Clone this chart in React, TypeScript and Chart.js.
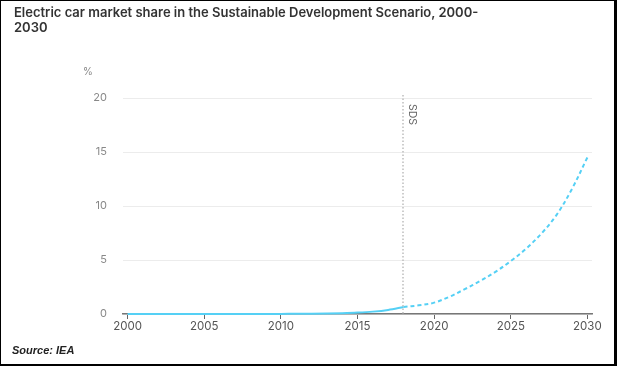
import React, { useEffect, useRef } from "react";
import { Chart, registerables } from "chart.js";

Chart.register(...registerables);

const histYears = [2000, 2001, 2002, 2003, 2004, 2005, 2006, 2007, 2008, 2009, 2010, 2011, 2012, 2013, 2014, 2015, 2016, 2017, 2018];
const histShare = [0, 0, 0, 0, 0, 0, 0, 0, 0, 0, 0.01, 0.02, 0.03, 0.05, 0.08, 0.13, 0.22, 0.38, 0.65];
const sdsYears = [2018, 2019, 2020, 2021, 2022, 2023, 2024, 2025, 2026, 2027, 2028, 2029, 2030];
const sdsShare = [0.65, 0.8, 1.05, 1.6, 2.3, 3.05, 3.9, 4.9, 6.05, 7.45, 9.2, 11.6, 14.5];
const xTicks = [2000, 2005, 2010, 2015, 2020, 2025, 2030];
const yTicks = [0, 5, 10, 15, 20];
const markerYear = 2018;
const markerLabel = "SDS";
const titleText = "Electric car market share in the Sustainable Development Scenario, 2000-\n2030";
const unitLabel = "%";
const sourceText = "Source: IEA";

const LINE = "#55d0f5";
const FONT = "Inter, 'Noto Sans', sans-serif";

const markerPlugin = {
  id: "sdsMarker",
  afterDatasetsDraw(chart: any) {
    const { ctx, chartArea, scales } = chart;
    const x = scales.x.getPixelForValue(markerYear);
    ctx.save();
    ctx.strokeStyle = "#bdbdbd";
    ctx.lineWidth = 1.5;
    ctx.setLineDash([1.5, 2]);
    ctx.beginPath();
    ctx.moveTo(Math.round(x), chartArea.top - 3);
    ctx.lineTo(Math.round(x), chartArea.bottom);
    ctx.stroke();
    ctx.setLineDash([]);
    ctx.translate(Math.round(x) + 4, chartArea.top + 6);
    ctx.rotate(Math.PI / 2);
    ctx.fillStyle = "#666";
    ctx.font = `10.5px ${FONT}`;
    ctx.textAlign = "left";
    ctx.textBaseline = "bottom";
    ctx.fillText(markerLabel, 0, 0);
    ctx.restore();
  },
};

export default function App() {
  const ref = useRef<HTMLCanvasElement | null>(null);

  useEffect(() => {
    document.body.style.margin = "0";
    if (!ref.current) return;
    const chart = new Chart(ref.current, {
      type: "line",
      data: {
        datasets: [
          {
            label: "Historical",
            data: histYears.map((y, i) => ({ x: y, y: histShare[i] })),
            borderColor: LINE,
            borderWidth: 2,
            pointRadius: 0,
            tension: 0.4,
            cubicInterpolationMode: "monotone",
            clip: false,
          },
          {
            label: "SDS",
            data: sdsYears.map((y, i) => ({ x: y, y: sdsShare[i] })),
            borderColor: LINE,
            borderWidth: 2,
            borderDash: [4, 3],
            pointRadius: 0,
            tension: 0.35,
            clip: false,
          },
        ],
      },
      options: {
        animation: false,
        responsive: false,
        maintainAspectRatio: false,
        layout: { padding: { left: 93, right: 25, top: 98, bottom: 22 } },
        plugins: { legend: { display: false }, tooltip: { enabled: false }, title: { display: false } },
        scales: {
          x: {
            type: "linear",
            min: 1999.7,
            max: 2030.3,
            afterBuildTicks: (s: any) => {
              s.ticks = xTicks.map((v) => ({ value: v }));
            },
            afterFit: (s: any) => {
              s.height = 30;
            },
            grid: { drawOnChartArea: false, drawTicks: true, tickLength: 5, color: "#666" },
            border: { display: true, color: "#777", width: 1.5 },
            ticks: {
              autoSkip: false,
              maxRotation: 0,
              padding: 1,
              color: "#555",
              font: { family: FONT, size: 11.5 },
              callback: (v: any) => String(v),
            },
          },
          y: {
            min: 0,
            max: 20,
            afterBuildTicks: (s: any) => {
              s.ticks = yTicks.map((v) => ({ value: v }));
            },
            afterFit: (s: any) => {
              s.width = 30;
            },
            grid: { drawTicks: false, color: "#ececec" },
            border: { display: false },
            ticks: {
              padding: 16,
              color: "#888",
              font: { family: FONT, size: 11 },
            },
          },
        },
      },
      plugins: [markerPlugin],
    } as any);
    return () => chart.destroy();
  }, []);

  return (
    <div
      style={{
        position: "relative",
        width: 617,
        height: 366,
        boxSizing: "border-box",
        borderTop: "1px solid #000",
        borderLeft: "1px solid #000",
        borderRight: "3px solid #000",
        borderBottom: "2px solid #000",
        background: "#fff",
        overflow: "hidden",
      }}
    >
      <canvas ref={ref} width={617} height={366} style={{ position: "absolute", left: -1, top: -1 }} />
      <div
        style={{
          position: "absolute",
          left: 13,
          top: 4,
          fontFamily: FONT,
          fontWeight: 600,
          fontSize: 13,
          lineHeight: "15px",
          color: "#333",
          whiteSpace: "pre",
        }}
      >
        {titleText}
      </div>
      <div
        style={{
          position: "absolute",
          left: 82,
          top: 64,
          fontFamily: FONT,
          fontSize: 10,
          color: "#888",
        }}
      >
        {unitLabel}
      </div>
      <div
        style={{
          position: "absolute",
          left: 11,
          top: 343,
          fontFamily: "Arial, 'Liberation Sans', sans-serif",
          fontStyle: "italic",
          fontWeight: 700,
          fontSize: 11,
          color: "#222",
        }}
      >
        {sourceText}
      </div>
    </div>
  );
}
